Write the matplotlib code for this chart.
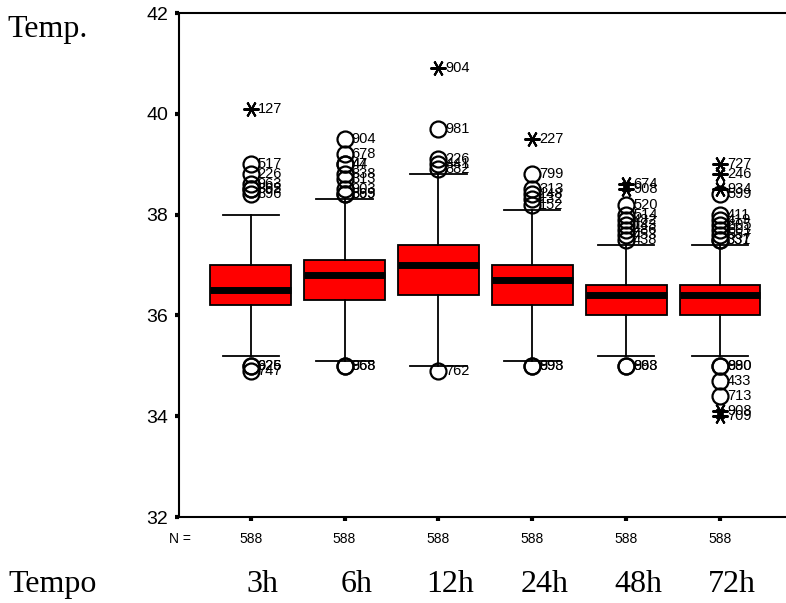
import matplotlib
matplotlib.use("Agg")
import matplotlib.pyplot as plt
import matplotlib.transforms as mtransforms
import numpy as np

# Body temperature by time point
groups = ["3h", "6h", "12h", "24h", "48h", "72h"]
counts = [588, 588, 588, 588, 588, 588]

q1 = [36.2, 36.3, 36.4, 36.2, 36.0, 36.0]
median = [36.5, 36.8, 37.0, 36.7, 36.4, 36.4]
q3 = [37.0, 37.1, 37.4, 37.0, 36.6, 36.6]
whisker_low = [35.2, 35.1, 35.0, 35.1, 35.2, 35.2]
whisker_high = [38.0, 38.3, 38.8, 38.1, 37.4, 37.4]

# outliers (circles) with case ids
outlier_values = [
    [39.0, 38.8, 38.6, 38.5, 38.5, 38.4, 35.0, 35.0, 34.9],
    [39.5, 39.2, 39.0, 39.0, 38.8, 38.7, 38.5, 38.4, 38.4, 35.0, 35.0],
    [39.7, 39.1, 39.0, 38.9, 34.9],
    [38.8, 38.5, 38.4, 38.3, 38.2, 35.0, 35.0],
    [38.2, 38.0, 37.9, 37.8, 37.7, 37.6, 37.5, 35.0, 35.0],
    [38.4, 38.0, 37.9, 37.8, 37.7, 37.6, 37.5, 37.5, 35.0, 35.0, 34.7, 34.4],
]
outlier_ids = [
    ["517", "226", "963", "862", "895", "896", "925", "626", "747"],
    ["904", "678", "44", "47", "838", "313", "903", "869", "595", "868", "968"],
    ["981", "226", "441", "882", "762"],
    ["799", "313", "148", "132", "152", "893", "998"],
    ["520", "514", "482", "143", "486", "453", "438", "868", "993"],
    ["599", "411", "419", "605", "601", "557", "331", "337", "880", "990", "433", "713"],
]

# extreme values (asterisks) with case ids
extreme_values = [
    [40.1],
    [],
    [40.9],
    [39.5],
    [38.6, 38.5],
    [39.0, 38.8, 38.5, 34.1, 34.0],
]
extreme_ids = [
    ["127"],
    [],
    ["904"],
    ["227"],
    ["674", "908"],
    ["727", "246", "934", "908", "709"],
]

plt.rcParams["font.family"] = ["Liberation Sans", "DejaVu Sans"]

W, H = 786, 603
fig = plt.figure(figsize=(W / 100, H / 100), dpi=100)
fig.patch.set_facecolor("white")

ax_left, ax_right, ax_top, ax_bottom = 179, 791.7, 13, 517
ax = fig.add_axes([ax_left / W, (H - ax_bottom) / H,
                   (ax_right - ax_left) / W, (ax_bottom - ax_top) / H])

positions = np.arange(1, len(groups) + 1)

stats = []
for i, g in enumerate(groups):
    stats.append(dict(label=g, q1=q1[i], med=median[i], q3=q3[i],
                      whislo=whisker_low[i], whishi=whisker_high[i],
                      fliers=np.array(outlier_values[i])))

ax.bxp(stats, positions=positions, widths=0.86, capwidths=0.6,
       patch_artist=True, showfliers=True,
       boxprops=dict(facecolor="#ff0000", edgecolor="black", linewidth=1.3),
       medianprops=dict(color="black", linewidth=5, solid_capstyle="butt"),
       whiskerprops=dict(color="black", linewidth=1.3),
       capprops=dict(color="black", linewidth=1.3),
       flierprops=dict(marker="o", markerfacecolor="none",
                       markeredgecolor="black", markersize=11.5,
                       markeredgewidth=1.6),
       zorder=2)

label_kw = dict(textcoords="offset points", xytext=(5, 0), ha="left",
                va="center", fontsize=10.5, color="black", zorder=4)

for i, x in enumerate(positions):
    ev = extreme_values[i]
    if ev:
        ax.plot([x] * len(ev), ev, linestyle="none", marker=(6, 2, 90),
                markersize=11.5, markeredgewidth=1.5, color="black", zorder=3)
    for v, lab in zip(outlier_values[i], outlier_ids[i]):
        ax.annotate(lab, (x, v), **label_kw)
    for v, lab in zip(ev, extreme_ids[i]):
        ax.annotate(lab, (x, v), **label_kw)

ax.set_xlim(1 - 71.7 / 93.9, len(groups) + 71.7 / 93.9)
ax.set_ylim(32, 42)
ax.set_yticks(np.arange(32, 43, 2))
ax.set_xticks(positions)
ax.set_xticklabels([str(c) for c in counts])

for side in ("left", "bottom", "top"):
    ax.spines[side].set_linewidth(1.5)
    ax.spines[side].set_color("black")
ax.spines["right"].set_visible(False)

ax.tick_params(axis="y", direction="out", length=3, width=3, pad=5,
               labelsize=14)
ax.tick_params(axis="x", direction="out", length=3, width=3, pad=8,
               labelsize=10)

# column header for the counts row
fig.text(179.5 / W, (H - 539) / H, "N =", ha="center", va="center",
         fontsize=10)

# axis captions in serif
serif = ["Liberation Serif", "DejaVu Serif"]
fig.text(7 / W, (H - 37) / H, "Temp.", family=serif, fontsize=23,
         ha="left", va="baseline")
fig.text(8 / W, (H - 592) / H, "Tempo", family=serif, fontsize=23,
         ha="left", va="baseline")
trans = mtransforms.blended_transform_factory(ax.transData, fig.transFigure)
for x, g in zip(positions, groups):
    ax.text(x + 0.13, (H - 592) / H, g, transform=trans, family=serif,
            fontsize=23, ha="center", va="baseline", clip_on=False)

fig.savefig("out.png", dpi=100, facecolor="white")
